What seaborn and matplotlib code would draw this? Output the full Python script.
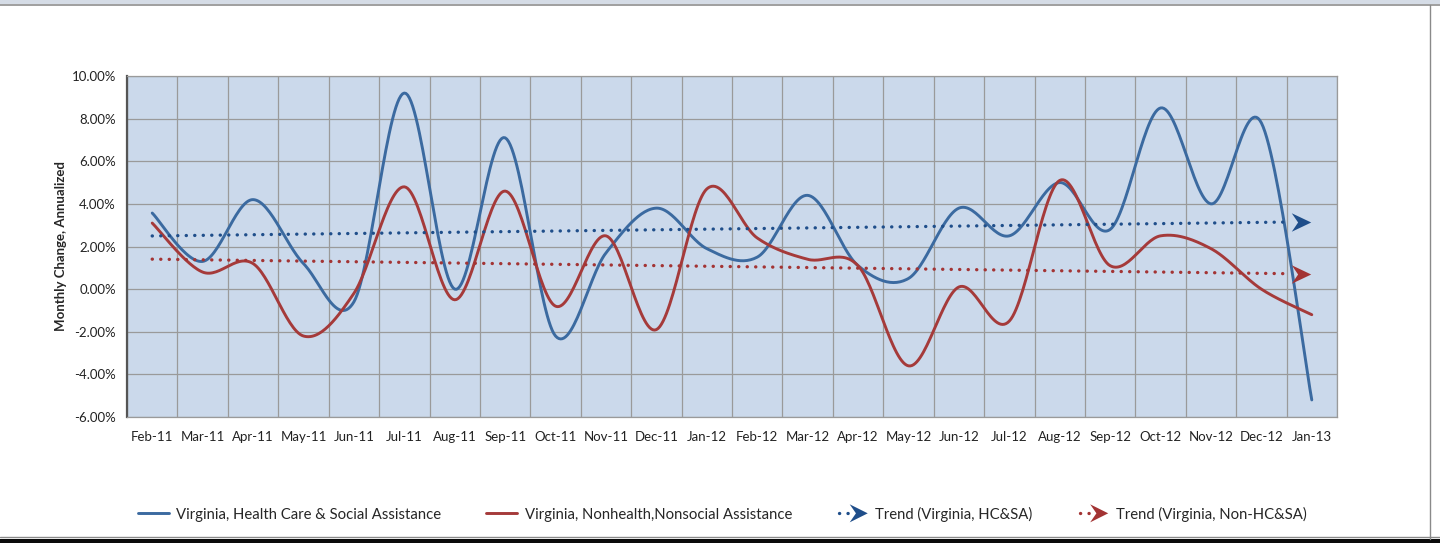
import numpy as np
import pandas as pd
import matplotlib
matplotlib.use("Agg")
import matplotlib.pyplot as plt
import seaborn as sns
from matplotlib.lines import Line2D
from matplotlib.patches import Polygon, Rectangle
from matplotlib.path import Path
from matplotlib.legend_handler import HandlerBase
from matplotlib.ticker import FuncFormatter, MultipleLocator

# Data (monthly change, annualized, in %)
months = ["Feb-11", "Mar-11", "Apr-11", "May-11", "Jun-11", "Jul-11", "Aug-11", "Sep-11",
          "Oct-11", "Nov-11", "Dec-11", "Jan-12", "Feb-12", "Mar-12", "Apr-12", "May-12",
          "Jun-12", "Jul-12", "Aug-12", "Sep-12", "Oct-12", "Nov-12", "Dec-12", "Jan-13"]
hcsa = [3.57, 1.3, 4.2, 1.2, -0.6, 9.2, 0.0, 7.1, -2.2, 1.7, 3.8, 1.9,
        1.5, 4.4, 1.1, 0.5, 3.8, 2.5, 5.0, 2.8, 8.5, 4.0, 7.8, -5.2]
non_hcsa = [3.1, 0.8, 1.2, -2.2, -0.2, 4.8, -0.5, 4.6, -0.8, 2.5, -1.9, 4.7,
            2.4, 1.4, 1.1, -3.6, 0.1, -1.5, 5.1, 1.1, 2.5, 1.9, 0.0, -1.2]
series_names = ["Virginia, Health Care & Social Assistance",
                "Virginia, Nonhealth,Nonsocial Assistance"]
trend_names = ["Trend (Virginia, HC&SA)", "Trend (Virginia, Non-HC&SA)"]

BLUE = "#3b6aa0"
RED = "#a53a3a"
BLUE_T = "#1f4e8a"
RED_T = "#a33434"
BG = "#cbd9eb"
DOTS = (0, (0.05, 2.5))


def smooth(y, n=30):
    # Excel-style smoothed line: cubic Bezier with Catmull-Rom control points
    x = np.arange(len(y), dtype=float)
    y = np.asarray(y, dtype=float)
    xs, ys = [], []
    for i in range(len(y) - 1):
        i0, i3 = max(i - 1, 0), min(i + 2, len(y) - 1)
        p0 = np.array([x[i], y[i]])
        p3 = np.array([x[i + 1], y[i + 1]])
        c1 = p0 + (p3 - np.array([x[i0], y[i0]])) / 6
        c2 = p3 - (np.array([x[i3], y[i3]]) - p0) / 6
        t = np.linspace(0, 1, n, endpoint=(i == len(y) - 2))[:, None]
        pts = (1 - t) ** 3 * p0 + 3 * (1 - t) ** 2 * t * c1 + 3 * (1 - t) * t ** 2 * c2 + t ** 3 * p3
        xs.append(pts[:, 0])
        ys.append(pts[:, 1])
    return np.concatenate(xs), np.concatenate(ys)


sns.set_style("white")
plt.rcParams["font.family"] = ["Lato", "DejaVu Sans"]

fig = plt.figure(figsize=(14.4, 5.43), dpi=100)
ax = fig.add_axes([127 / 1440, 1 - 417 / 543, 1210 / 1440, 341 / 543])
ax.set_facecolor(BG)

idx = np.arange(len(months))
frames = []
for name, vals in zip(series_names, [hcsa, non_hcsa]):
    sx, sy = smooth(vals)
    frames.append(pd.DataFrame({"x": sx, "y": sy, "series": name}))
curves = pd.concat(frames, ignore_index=True)
sns.lineplot(data=curves, x="x", y="y", hue="series", palette=[BLUE, RED],
             sort=False, estimator=None, lw=2.1, ax=ax, legend=False, zorder=3)

# linear trend lines (as Excel's trendline)
stealth = Path([(1, 0), (-1, 0.95), (-0.35, 0), (-1, -0.95), (1, 0)],
               [Path.MOVETO, Path.LINETO, Path.LINETO, Path.LINETO, Path.CLOSEPOLY])
for vals, col in zip([hcsa, non_hcsa], [BLUE_T, RED_T]):
    k, b = np.polyfit(idx, vals, 1)
    tx = np.array([0, 22.55])
    sns.lineplot(x=tx, y=k * tx + b, color=col, lw=2.4, ax=ax,
                 linestyle=DOTS, dash_capstyle="round", zorder=4)
    ax.plot([22.78], [k * 22.78 + b], marker=stealth, markersize=14,
            color=col, markeredgewidth=0, zorder=5)

ax.set_xlim(-0.5, len(months) - 0.5)
ax.set_ylim(-6, 10)
ax.set_xticks(idx)
ax.set_xticklabels(months)
ax.xaxis.set_minor_locator(MultipleLocator(1, offset=0.5))
ax.yaxis.set_major_locator(MultipleLocator(2))
ax.yaxis.set_major_formatter(FuncFormatter(lambda v, p: f"{v:.2f}%"))
ax.grid(True, which="major", axis="y", color="#9a9a9a", lw=0.9)
ax.grid(True, which="minor", axis="x", color="#9a9a9a", lw=0.9)
ax.tick_params(axis="both", which="both", length=0, labelsize=9.5, colors="#222222")
ax.tick_params(axis="x", pad=10)
ax.tick_params(axis="y", pad=8)
for s in ["top", "right", "bottom"]:
    ax.spines[s].set_color("#9a9a9a")
    ax.spines[s].set_linewidth(0.9)
ax.spines["left"].set_color("#555555")
ax.spines["left"].set_linewidth(1.6)
ax.set_xlabel("")
ax.set_ylabel("Monthly Change, Annualized", fontsize=9.5, fontweight="bold", labelpad=3)


class TrendHandler(HandlerBase):
    def create_artists(self, legend, orig_handle, xdescent, ydescent, width, height,
                       fontsize, trans):
        col = orig_handle.get_color()
        y = height / 2 - ydescent
        x0 = -xdescent
        line = Line2D([x0 + 2, x0 + width - 11], [y, y], color=col, lw=2.4,
                      linestyle=DOTS, dash_capstyle="round", transform=trans)
        tip = x0 + width
        head = Polygon([(tip, y), (tip - 13, y + 6.5), (tip - 8.5, y), (tip - 13, y - 6.5)],
                       closed=True, color=col, lw=0, transform=trans)
        return [line, head]


handles = [Line2D([], [], color=BLUE, lw=2.1), Line2D([], [], color=RED, lw=2.1),
           Line2D([], [], color=BLUE_T), Line2D([], [], color=RED_T)]
leg = fig.legend(handles, series_names + trend_names, loc="center", ncol=4,
                 bbox_to_anchor=(722 / 1440, 1 - 514 / 543), frameon=False,
                 fontsize=10.7, handlelength=2.1, handletextpad=0.5, columnspacing=3.0,
                 handler_map={handles[2]: TrendHandler(), handles[3]: TrendHandler()})

# window framing seen in the screenshot
fig.add_artist(Rectangle((0, 1 - 4 / 543), 1, 4 / 543, transform=fig.transFigure,
                         color="#d5dce6", lw=0))
fig.add_artist(Line2D([0, 1], [1 - 5 / 543, 1 - 5 / 543], transform=fig.transFigure,
                      color="#8f8f8f", lw=1.2))
fig.add_artist(Line2D([1430 / 1440, 1430 / 1440], [4 / 543, 1 - 5 / 543],
                      transform=fig.transFigure, color="#8a8a8a", lw=1.0))
fig.add_artist(Line2D([0, 1], [6 / 543, 6 / 543], transform=fig.transFigure,
                      color="#8a8a8a", lw=1.0))
fig.add_artist(Rectangle((0, 0), 1, 4 / 543, transform=fig.transFigure,
                         color="#0a0a0a", lw=0))

fig.savefig("out.png", dpi=100)
